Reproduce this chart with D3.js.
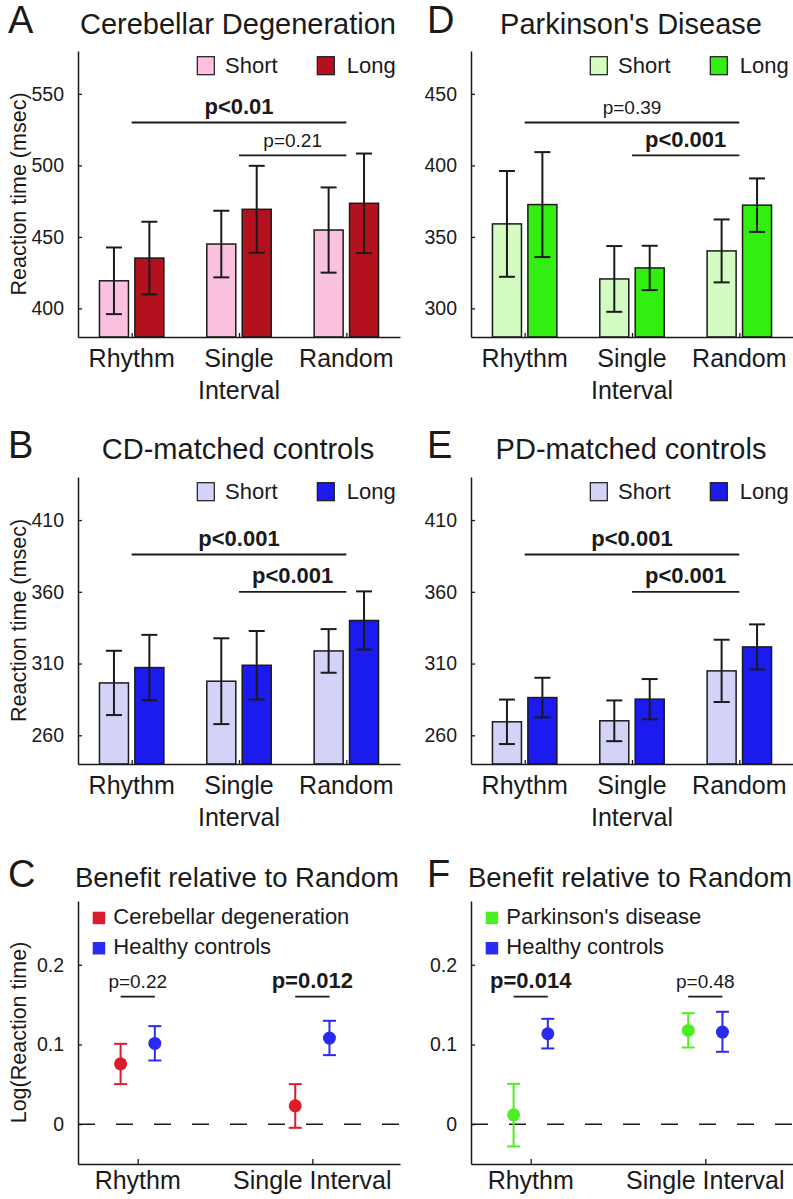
<!DOCTYPE html>
<html><head><meta charset="utf-8">
<script src="https://cdn.jsdelivr.net/npm/d3@7"></script>
<style>
body{margin:0;background:#fff}
svg{display:block}
text{font-family:"Liberation Sans",Arial,Helvetica,sans-serif;fill:#1a1a1a}
</style>
</head><body>
<svg id="chart" width="793" height="1199"></svg>
<script>
// ---------- DATA ----------
const categories = ["Rhythm", "Single Interval", "Random"];
const categoryLines = [["Rhythm"], ["Single", "Interval"], ["Random"]];
const seriesNames = ["Short", "Long"];

// Panel A: Cerebellar Degeneration (msec)
const cdShortMean = [419.3, 445.0, 454.8];
const cdShortErr  = [23.3, 23.3, 29.8];
const cdLongMean  = [435.2, 469.3, 473.5];
const cdLongErr   = [25.4, 30.4, 34.8];
const ticksA = [400, 450, 500, 550];

// Panel D: Parkinson's Disease
const pdShortMean = [359.1, 320.6, 340.2];
const pdShortErr  = [37.0, 23.0, 22.0];
const pdLongMean  = [372.6, 328.3, 372.2];
const pdLongErr   = [36.7, 15.5, 18.7];
const ticksD = [300, 350, 400, 450];

// Panel B: CD-matched controls
const cdCtlShortMean = [296.5, 297.7, 318.8];
const cdCtlShortErr  = [22.4, 29.9, 15.2];
const cdCtlLongMean  = [307.2, 308.8, 340.0];
const cdCtlLongErr   = [22.8, 23.9, 20.3];
const ticksB = [260, 310, 360, 410];

// Panel E: PD-matched controls
const pdCtlShortMean = [269.4, 270.1, 304.9];
const pdCtlShortErr  = [15.5, 14.2, 21.7];
const pdCtlLongMean  = [286.3, 285.2, 321.6];
const pdCtlLongErr   = [13.8, 14.0, 15.7];
const ticksE = [260, 310, 360, 410];

// Panels C / F: Benefit relative to Random (log RT)
const benefitCategories = ["Rhythm", "Single Interval"];
const cdBenefit    = [0.0757, 0.0230];
const cdBenefitLo  = [0.0502, -0.0046];
const cdBenefitHi  = [0.1008, 0.0502];
const cdCtlBenefit   = [0.1013, 0.1080];
const cdCtlBenefitLo = [0.0799, 0.0866];
const cdCtlBenefitHi = [0.1230, 0.1297];
const pdBenefit    = [0.0117, 0.1176];
const pdBenefitLo  = [-0.0280, 0.0962];
const pdBenefitHi  = [0.0506, 0.1393];
const pdCtlBenefit   = [0.1134, 0.1155];
const pdCtlBenefitLo = [0.0950, 0.0908];
const pdCtlBenefitHi = [0.1322, 0.1410];
const ticksBenefit = [0, 0.1, 0.2];

// Significance annotations (category index from/to, bracket level in data units)
const sigA = [{from:0, to:2, level:530, label:"p<0.01", bold:true},
              {from:1, to:2, level:507, label:"p=0.21", bold:false}];
const sigD = [{from:0, to:2, level:430, label:"p=0.39", bold:false},
              {from:1, to:2, level:407, label:"p<0.001", bold:true}];
const sigB = [{from:0, to:2, level:386, label:"p<0.001", bold:true},
              {from:1, to:2, level:360, label:"p<0.001", bold:true}];
const sigE = [{from:0, to:2, level:386, label:"p<0.001", bold:true},
              {from:1, to:2, level:360, label:"p<0.001", bold:true}];
const sigC = [{cat:0, level:0.16, label:"p=0.22", bold:false},
              {cat:1, level:0.16, label:"p=0.012", bold:true}];
const sigF = [{cat:0, level:0.16, label:"p=0.014", bold:true},
              {cat:1, level:0.16, label:"p=0.48", bold:false}];

// ---------- DRAWING ----------
const svg = d3.select("#chart");
const INK = "#1a1a1a";
const LEFT = {x0:78, x1:400, letterX:8};
const RIGHT = {x0:471, x1:793, letterX:427};

function styleAxis(g, size) {
  g.select(".domain").attr("stroke", INK).attr("stroke-width", 1.5);
  g.selectAll(".tick line").attr("stroke", INK).attr("stroke-width", 1.3);
  g.selectAll(".tick text").attr("fill", INK).attr("font-size", size)
    .attr("font-family", '"Liberation Sans",Arial,sans-serif');
}

function barPanel(o) {
  const col = o.col;
  const y = d3.scaleLinear().domain(o.domain).range([o.yBot, o.yTop]);
  const x = d3.scaleLinear().domain([0.5, 3.5]).range([col.x0, col.x1]);
  const g = svg.append("g");
  const barW = 29, off = 0.165;

  // letter + title
  g.append("text").attr("x", col.letterX).attr("y", o.titleY - 1)
    .attr("font-size", 38).text(o.letter);
  g.append("text").attr("x", (col.x0 + col.x1) / 2 - 1).attr("y", o.titleY)
    .attr("text-anchor", "middle").attr("font-size", 29).text(o.title);

  // bars
  const series = [
    {mean:o.shortMean, err:o.shortErr, color:o.colors[0], dx:-off},
    {mean:o.longMean, err:o.longErr, color:o.colors[1], dx:off}
  ];
  series.forEach(s => {
    const bg = g.append("g");
    bg.selectAll("rect").data(s.mean).join("rect")
      .attr("x", (d, i) => x(i + 1 + s.dx) - barW / 2)
      .attr("y", d => y(d))
      .attr("width", barW)
      .attr("height", d => o.yBot - y(d))
      .attr("fill", s.color).attr("stroke", INK).attr("stroke-width", 1.5);
    const eb = g.append("g").attr("stroke", INK).attr("stroke-width", 2);
    s.mean.forEach((m, i) => {
      const cx = x(i + 1 + s.dx), e = s.err[i], cw = 8;
      eb.append("line").attr("x1", cx).attr("x2", cx).attr("y1", y(m - e)).attr("y2", y(m + e));
      eb.append("line").attr("x1", cx - cw).attr("x2", cx + cw).attr("y1", y(m + e)).attr("y2", y(m + e));
      eb.append("line").attr("x1", cx - cw).attr("x2", cx + cw).attr("y1", y(m - e)).attr("y2", y(m - e));
    });
  });

  // axes
  const ya = g.append("g").attr("transform", `translate(${col.x0},0)`)
    .call(d3.axisLeft(y).tickValues(o.ticks).tickSizeInner(-4).tickSizeOuter(0).tickPadding(14));
  styleAxis(ya, 19.5);
  const xa = g.append("g").attr("transform", `translate(0,${o.yBot})`)
    .call(d3.axisBottom(x).tickValues([1, 2, 3]).tickSizeInner(-4).tickSizeOuter(0).tickFormat(""));
  styleAxis(xa, 19);
  categoryLines.forEach((lines, i) => {
    lines.forEach((t, k) => {
      g.append("text").attr("x", x(i + 1)).attr("y", o.yBot + 30 + k * 31.7)
        .attr("text-anchor", "middle").attr("font-size", 25).text(t);
    });
  });

  // y label
  if (o.yLabel) {
    g.append("text").attr("transform", `translate(26,${(o.yTop + o.yBot) / 2}) rotate(-90)`)
      .attr("text-anchor", "middle").attr("font-size", 21.5).text(o.yLabel);
  }

  // legend
  const lg = g.append("g");
  [[119.3, 147], [239.3, 268.7]].forEach((p, i) => {
    lg.append("rect").attr("x", col.x0 + p[0]).attr("y", o.yTop + 5.7)
      .attr("width", 17).attr("height", 18)
      .attr("fill", o.colors[i]).attr("stroke", INK).attr("stroke-width", 1.2);
    lg.append("text").attr("x", col.x0 + p[1]).attr("y", o.yTop + 22.3)
      .attr("font-size", 22).text(seriesNames[i]);
  });

  // significance brackets
  o.sig.forEach(s => {
    const yy = y(s.level);
    g.append("line").attr("x1", x(s.from + 1)).attr("x2", x(s.to + 1))
      .attr("y1", yy).attr("y2", yy).attr("stroke", INK).attr("stroke-width", 1.8);
    g.append("text").attr("x", (x(s.from + 1) + x(s.to + 1)) / 2).attr("y", yy - 8.5)
      .attr("text-anchor", "middle")
      .attr("font-size", s.bold ? 22 : 19)
      .attr("font-weight", s.bold ? "bold" : "normal").text(s.label);
  });
}

function benefitPanel(o) {
  const col = o.col;
  const y = d3.scaleLinear().domain([-0.05, 0.28]).range([o.yBot, o.yTop]);
  const x = d3.scaleLinear().domain([0.658, 2.502]).range([col.x0, col.x1]);
  const g = svg.append("g");
  const dOff = 0.098;

  g.append("text").attr("x", col.letterX).attr("y", o.titleY)
    .attr("font-size", 38).text(o.letter);
  g.append("text").attr("x", (col.x0 + col.x1) / 2 - 2).attr("y", o.titleY)
    .attr("text-anchor", "middle").attr("font-size", 27.5).text("Benefit relative to Random");

  // zero dashed line
  g.append("line").attr("x1", col.x0).attr("x2", col.x1).attr("y1", y(0)).attr("y2", y(0))
    .attr("stroke", INK).attr("stroke-width", 1.5).attr("stroke-dasharray", "17,21");

  const series = [
    {m:o.patient, lo:o.patientLo, hi:o.patientHi, color:o.colors[0], dx:-dOff},
    {m:o.control, lo:o.controlLo, hi:o.controlHi, color:o.colors[1], dx:dOff}
  ];
  series.forEach(s => {
    const sg = g.append("g").attr("stroke", s.color).attr("stroke-width", 2);
    s.m.forEach((v, i) => {
      const cx = x(i + 1 + s.dx), cw = 6.5;
      sg.append("line").attr("x1", cx).attr("x2", cx).attr("y1", y(s.lo[i])).attr("y2", y(s.hi[i]));
      sg.append("line").attr("x1", cx - cw).attr("x2", cx + cw).attr("y1", y(s.hi[i])).attr("y2", y(s.hi[i]));
      sg.append("line").attr("x1", cx - cw).attr("x2", cx + cw).attr("y1", y(s.lo[i])).attr("y2", y(s.lo[i]));
    });
    g.append("g").selectAll("circle").data(s.m).join("circle")
      .attr("cx", (d, i) => x(i + 1 + s.dx)).attr("cy", d => y(d)).attr("r", 6.5)
      .attr("fill", s.color);
  });

  const ya = g.append("g").attr("transform", `translate(${col.x0},0)`)
    .call(d3.axisLeft(y).tickValues(ticksBenefit).tickFormat(d => d === 0 ? "0" : d3.format(".1f")(d))
      .tickSizeInner(-4).tickSizeOuter(0).tickPadding(14));
  styleAxis(ya, 19.5);
  const xa = g.append("g").attr("transform", `translate(0,${o.yBot})`)
    .call(d3.axisBottom(x).tickValues([1, 2]).tickSizeInner(-5).tickSizeOuter(0).tickFormat(""));
  styleAxis(xa, 19);
  benefitCategories.forEach((c, i) => {
    g.append("text").attr("x", x(i + 1)).attr("y", o.yBot + 24.5)
      .attr("text-anchor", "middle").attr("font-size", 25).text(c);
  });

  if (o.yLabel) {
    g.append("text").attr("transform", `translate(26,${(o.yTop + o.yBot) / 2}) rotate(-90)`)
      .attr("text-anchor", "middle").attr("font-size", 21.5).text(o.yLabel);
  }

  // legend
  o.legend.forEach((t, i) => {
    g.append("rect").attr("x", col.x0 + 14.7).attr("y", o.yTop + 10.7 + i * 30.3)
      .attr("width", 12.5).attr("height", 12.5).attr("fill", o.colors[i]);
    g.append("text").attr("x", col.x0 + 35.3).attr("y", o.yTop + 22.8 + i * 30.3)
      .attr("font-size", 22).text(t);
  });

  // significance
  o.sig.forEach(s => {
    const yy = y(s.level);
    g.append("line").attr("x1", x(s.cat + 1 - dOff)).attr("x2", x(s.cat + 1 + dOff))
      .attr("y1", yy).attr("y2", yy).attr("stroke", INK).attr("stroke-width", 1.8);
    g.append("text").attr("x", x(s.cat + 1)).attr("y", yy - 8.4)
      .attr("text-anchor", "middle")
      .attr("font-size", s.bold ? 22 : 19)
      .attr("font-weight", s.bold ? "bold" : "normal").text(s.label);
  });
}

barPanel({col:LEFT, yTop:51, yBot:337, domain:[380, 580], ticks:ticksA, titleY:34,
  letter:"A", title:"Cerebellar Degeneration", yLabel:"Reaction time (msec)",
  shortMean:cdShortMean, shortErr:cdShortErr, longMean:cdLongMean, longErr:cdLongErr,
  colors:["#fbc2df", "#b4111f"], sig:sigA});
barPanel({col:RIGHT, yTop:51, yBot:337, domain:[280, 480], ticks:ticksD, titleY:34,
  letter:"D", title:"Parkinson's Disease", yLabel:null,
  shortMean:pdShortMean, shortErr:pdShortErr, longMean:pdLongMean, longErr:pdLongErr,
  colors:["#d4fbc2", "#33ee11"], sig:sigD});
barPanel({col:LEFT, yTop:477, yBot:764, domain:[240, 440], ticks:ticksB, titleY:459.3,
  letter:"B", title:"CD-matched controls", yLabel:"Reaction time (msec)",
  shortMean:cdCtlShortMean, shortErr:cdCtlShortErr, longMean:cdCtlLongMean, longErr:cdCtlLongErr,
  colors:["#d3d3f7", "#1b1bf0"], sig:sigB});
barPanel({col:RIGHT, yTop:477, yBot:764, domain:[240, 440], ticks:ticksE, titleY:459.3,
  letter:"E", title:"PD-matched controls", yLabel:null,
  shortMean:pdCtlShortMean, shortErr:pdCtlShortErr, longMean:pdCtlLongMean, longErr:pdCtlLongErr,
  colors:["#d3d3f7", "#1b1bf0"], sig:sigE});
benefitPanel({col:LEFT, yTop:901, yBot:1164, titleY:887, letter:"C", yLabel:"Log(Reaction time)",
  patient:cdBenefit, patientLo:cdBenefitLo, patientHi:cdBenefitHi,
  control:cdCtlBenefit, controlLo:cdCtlBenefitLo, controlHi:cdCtlBenefitHi,
  colors:["#dc1c2a", "#2b2bf0"], legend:["Cerebellar degeneration", "Healthy controls"], sig:sigC});
benefitPanel({col:RIGHT, yTop:901, yBot:1164, titleY:887, letter:"F", yLabel:null,
  patient:pdBenefit, patientLo:pdBenefitLo, patientHi:pdBenefitHi,
  control:pdCtlBenefit, controlLo:pdCtlBenefitLo, controlHi:pdCtlBenefitHi,
  colors:["#4cef22", "#2b2bf0"], legend:["Parkinson's disease", "Healthy controls"], sig:sigF});
</script>
</body></html>
